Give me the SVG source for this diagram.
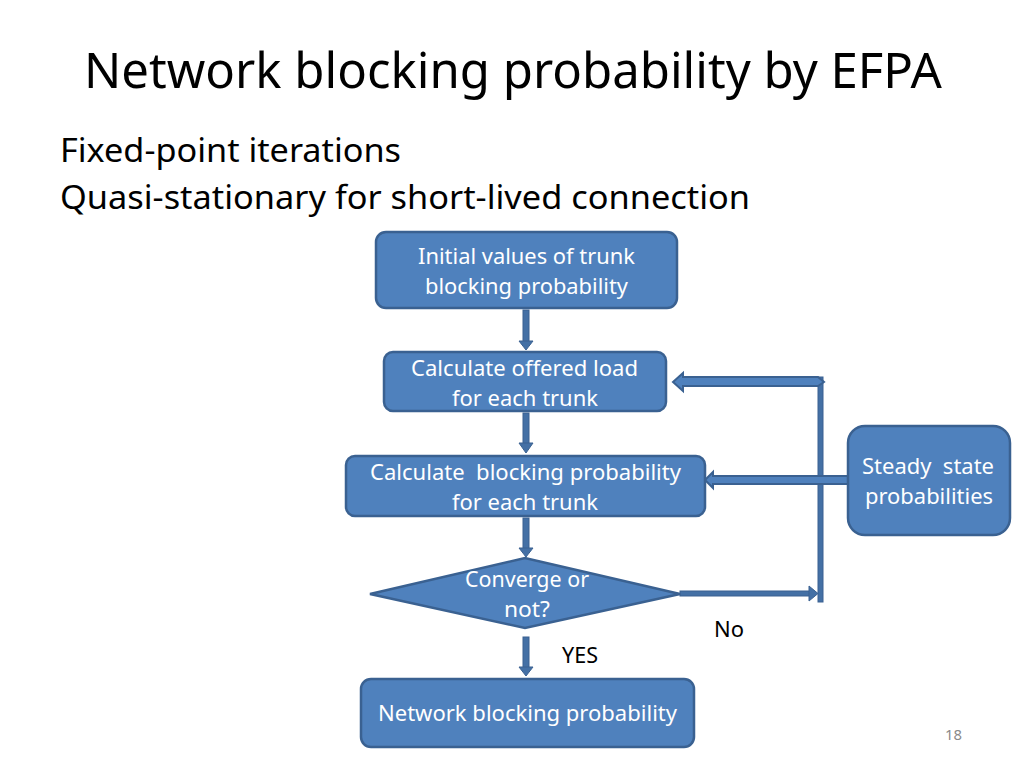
<svg xmlns="http://www.w3.org/2000/svg" width="1024" height="768" viewBox="0 0 1024 768">
<style>
.t{font-family:"Noto Sans","Open Sans",sans-serif;fill:#000}
.w{font-family:"Noto Sans","Open Sans",sans-serif;fill:#fff;font-size:21px;white-space:pre}
.node{fill:#4f81bd;stroke:#3a6191;stroke-width:2.5}
.bar{fill:#4470a5;stroke:#3a6191;stroke-width:1}
.blk{fill:#4f81bd;stroke:#3a6191;stroke-width:2}
</style>
<rect width="1024" height="768" fill="#fff"/>
<text class="t" x="84" y="88" font-size="49" textLength="858" lengthAdjust="spacingAndGlyphs">Network blocking probability by EFPA</text>
<text class="t" x="60" y="162" font-size="33" textLength="341" lengthAdjust="spacingAndGlyphs">Fixed-point iterations</text>
<text class="t" x="60" y="209" font-size="33" textLength="690" lengthAdjust="spacingAndGlyphs">Quasi-stationary for short-lived connection</text>

<g id="connectors">
  <rect class="bar" x="523" y="310" width="6" height="32"/>
  <polygon class="bar" points="519,341 533,341 526,350"/>
  <rect class="bar" x="523" y="413" width="6" height="31"/>
  <polygon class="bar" points="519,443 533,443 526,453"/>
  <rect class="bar" x="523" y="518" width="6" height="31"/>
  <polygon class="bar" points="519,548 533,548 526,557"/>
  <rect class="bar" x="523" y="637" width="6" height="31"/>
  <polygon class="bar" points="519,667 533,667 526,676"/>
  <rect class="bar" x="818" y="377" width="5" height="225"/>
  <rect class="bar" x="680" y="591" width="130" height="5"/>
  <polygon class="bar" points="809,586 818,593.5 809,601"/>
  <polygon class="blk" points="673,382 683,373 683,377 818,377 824,382 818,386 683,386 683,391"/>
  <polygon class="blk" points="705,480 713,472 713,476 848,476 848,484 713,484 713,488"/>
</g>

<g id="n1">
  <rect class="node" x="376" y="232" width="301" height="76" rx="10"/>
  <text class="w" x="418" y="264" textLength="217" lengthAdjust="spacingAndGlyphs">Initial values of trunk</text>
  <text class="w" x="425" y="294" textLength="203" lengthAdjust="spacingAndGlyphs">blocking probability</text>
</g>
<g id="n2">
  <rect class="node" x="384" y="352" width="282" height="59" rx="9"/>
  <text class="w" x="411" y="376" textLength="227" lengthAdjust="spacingAndGlyphs">Calculate offered load</text>
  <text class="w" x="452" y="406" textLength="146" lengthAdjust="spacingAndGlyphs">for each trunk</text>
</g>
<g id="n3">
  <rect class="node" x="346" y="456" width="359" height="60" rx="9"/>
  <text class="w" x="370" y="480" textLength="311" lengthAdjust="spacingAndGlyphs" xml:space="preserve">Calculate  blocking probability</text>
  <text class="w" x="452" y="510" textLength="146" lengthAdjust="spacingAndGlyphs">for each trunk</text>
</g>
<g id="n4">
  <polygon class="node" points="370,594 525,558 680,594 525,628"/>
  <text class="w" x="465" y="587" textLength="124" lengthAdjust="spacingAndGlyphs">Converge or</text>
  <text class="w" x="504" y="617" textLength="46" lengthAdjust="spacingAndGlyphs">not?</text>
</g>
<g id="n5">
  <rect class="node" x="361" y="679" width="333" height="68" rx="10"/>
  <text class="w" x="378" y="721" textLength="299" lengthAdjust="spacingAndGlyphs">Network blocking probability</text>
</g>
<g id="n6">
  <rect class="node" x="848" y="426" width="162" height="109" rx="17"/>
  <text class="w" x="862" y="474" textLength="132" lengthAdjust="spacingAndGlyphs" xml:space="preserve">Steady  state</text>
  <text class="w" x="865" y="504" textLength="128" lengthAdjust="spacingAndGlyphs">probabilities</text>
</g>

<text class="t" x="714" y="637" font-size="21" textLength="30" lengthAdjust="spacingAndGlyphs">No</text>
<text class="t" x="562" y="663" font-size="21" textLength="36" lengthAdjust="spacingAndGlyphs">YES</text>
<text class="t" x="945" y="740" font-size="14" style="fill:#8a8a8a" textLength="17" lengthAdjust="spacingAndGlyphs">18</text>
</svg>
